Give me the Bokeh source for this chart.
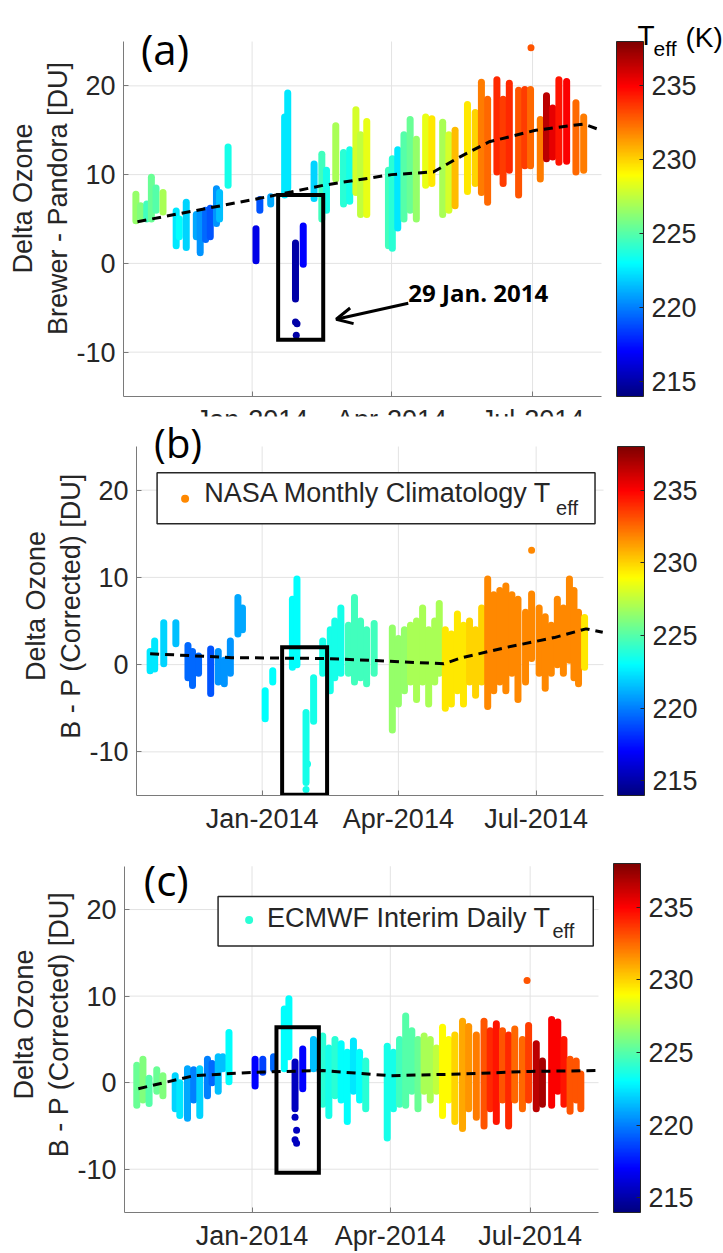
import pandas as pd
from bokeh.plotting import figure
from bokeh.layouts import column
from bokeh.models import (Range1d, FixedTicker, DatetimeTickFormatter, ColorBar,
                          LinearColorMapper, Label, Arrow, OpenHead, ColumnDataSource)
from bokeh.core.properties import value
from bokeh.embed import file_html
from bokeh.resources import INLINE

# ---------------- data (x = days from 1 Jan 2014) ----------------
# Panel (a): Brewer - Pandora, coloured by daily Teff
A_DAY = [-75, -72, -68, -65, -62, -57.5, -49, -47, -42.5, -36, -33.5, -30, -27, -23, -21, -15.5,
         2.5, 5, 12, 21, 23, 28, 33, 40, 45, 48, 54, 59, 63, 67, 70, 74,
         88, 90.5, 94, 98, 102, 106, 112, 116, 123, 127, 131, 139, 144, 148, 152,
         158, 162, 166, 172, 176, 179.7, 186, 190, 194, 198, 203, 209, 214]
A_LO = [4.8, 5.0, 5.0, 5.0, 6.0, 5.8, 2.0, 3.0, 1.8, 3.0, 1.2, 2.7, 3.0, 4.5, 5.0, 8.8,
        0.3, 6.0, 6.7, 7.7, 8.5, -4.0, -0.1, 7.3, 5.0, 6.0, 9.5, 6.7, 7.0, 8.0, 5.5, 5.5,
        2.0, 1.7, 4.0, 5.0, 6.0, 5.0, 8.8, 9.0, 5.5, 6.0, 6.5, 8.1, 9.0, 8.0, 6.9,
        10.3, 9.0, 10.5, 7.7, 11.0, 11.0, 9.5, 11.8, 12.0, 11.4, 11.5, 10.3, 10.5]
A_HI = [7.8, 6.5, 6.7, 9.7, 8.5, 8.0, 5.9, 5.0, 6.9, 5.5, 5.7, 6.0, 6.2, 8.4, 8.0, 13.1,
        3.9, 7.2, 7.5, 16.5, 19.2, 2.3, 4.2, 11.2, 12.3, 10.5, 15.5, 12.5, 12.8, 17.3, 14.5, 16.0,
        10.5, 11.8, 12.8, 14.5, 16.2, 14.0, 16.5, 16.3, 15.9, 14.5, 15.0, 17.9, 17.0, 20.4, 18.5,
        20.7, 18.5, 20.3, 19.5, 19.6, 19.6, 16.2, 18.9, 17.5, 20.7, 20.5, 18.1, 16.5]
A_TEFF = [226.5, 226, 224.5, 225.5, 225, 227, 222.5, 223, 222, 221, 220.5, 219.5, 219, 220.5, 221.5, 223.5,
          216.5, 219, 221, 222.5, 222.5, 215, 217, 222, 224.5, 223.5, 227, 224, 223.5, 228, 227.5, 228.5,
          224.5, 224, 222.5, 225, 225.5, 226.5, 228.5, 229.5, 227, 228, 230.5, 229.5, 230, 232, 232.5,
          234, 233.5, 234, 233, 233.5, 232.5, 232, 236.5, 235.5, 234.5, 235, 232.5, 232]
A_PT_DAY = [28, 29, 28.5, 180]
A_PT_Y = [-6.6, -6.8, -8.1, 24.3]
A_PT_TEFF = [215, 215, 215, 233]
A_TREND_DAY = [-74, 4, 46, 90, 117, 132, 153, 183, 214, 225]
A_TREND_Y = [4.7, 7.3, 8.8, 10.0, 10.3, 11.8, 13.7, 15.0, 15.7, 15.0]

# Panel (b): corrected with NASA monthly climatology Teff
B_DAY = [-74, -71, -65, -57, -49, -46, -42, -34, -29, -25, -21, -16, -13, 2, 7, 20, 23, 29, 34,
         40, 45, 48, 52, 57, 61, 65, 69, 74, 86, 90, 94, 98, 102, 106, 110, 114, 117,
         121, 125, 129, 133, 137, 141, 145, 149, 153, 157, 161, 165, 169, 174, 178,
         183, 187, 191, 195, 199, 203, 206, 209, 213]
B_LO = [-0.7, -0.5, 0.1, 2.4, -1.5, -2.4, -1.0, -3.3, -2.0, -2.2, -1.0, 3.5, 4.0, -6.2, -2.0, -0.3, 0.0, -13.5, -6.5,
        -1.0, -3.0, -1.5, -1.0, -1.0, -2.0, -1.5, -2.2, -1.0, -7.5, -4.5, -3.0, -2.0, -4.0, -2.0, -4.5, -2.0, -1.0,
        -5.0, -4.5, -3.0, -4.5, -2.0, -3.5, -2.0, -4.8, -3.0, -2.0, -3.0, -1.0, -4.0, -2.0, 0.7,
        -1.0, -2.7, -1.0, 0.0, -1.0, 0.5, -1.5, -2.2, -0.3]
B_HI = [1.5, 2.7, 4.8, 4.8, 2.2, 1.5, 1.0, 1.8, 1.5, 0.5, 2.7, 7.7, 6.5, -3.0, -0.7, 7.5, 9.8, -5.5, -1.5,
        2.7, 4.0, 5.0, 6.5, 4.5, 7.7, 5.0, 4.0, 4.7, 4.2, 3.0, 4.0, 4.5, 5.0, 6.5, 4.0, 5.0, 7.0,
        4.0, 3.5, 5.8, 4.5, 5.0, 4.0, 6.5, 9.8, 8.0, 8.5, 9.0, 8.0, 7.5, 6.0, 8.1,
        6.5, 5.5, 4.5, 7.5, 6.5, 9.8, 8.5, 6.0, 5.4]
B_TEFF = [222.5, 222.5, 222, 221.5, 219.5, 219.5, 219.5, 219, 220.5, 220.5, 220.5, 221, 221, 223, 223, 223, 223, 223.5, 223.5,
          223.5, 223.5, 223.5, 223.5, 224.5, 224.5, 224.5, 224.5, 224.5, 226.5, 226.5, 226.5, 227, 227, 227, 227, 227, 227,
          229.5, 229.5, 229.5, 229.5, 230, 230, 230, 231.8, 231.8, 231.8, 231.8, 231.8, 231.8, 231.8, 231.8,
          231.8, 231.8, 231.8, 231.8, 231.8, 231.8, 231.8, 231.8, 229.5]
B_PT_DAY = [29, 30, 178]
B_PT_Y = [-14.3, -11.4, 13.1]
B_PT_TEFF = [223.5, 223.5, 231.8]
B_TREND_DAY = [-74, -20, 41, 71, 101, 120, 132, 162, 193, 214, 225]
B_TREND_Y = [1.25, 0.8, 0.7, 0.5, 0.25, 0.1, 0.8, 2.0, 3.1, 4.1, 3.7]

# Panel (c): corrected with ECMWF Interim daily Teff
C_DAY = [-75, -71, -67, -62, -58, -50, -47, -42, -38, -34, -29, -26, -22, -19, -15, 2, 7, 14, 21, 24, 28, 33,
         40, 46, 50, 54, 58, 62, 66, 70, 74, 88, 92, 96, 100, 104, 108, 112, 116, 120, 124, 128, 132,
         137, 141, 146, 151, 155, 159, 163, 167, 171, 176, 180, 185, 189, 195, 199, 203, 207, 211, 214]
C_LO = [-2.6, -2.0, -2.4, -1.0, -1.5, -3.0, -3.8, -4.1, -2.0, -3.8, -1.5, 0.0, -1.0, 1.6, 0.1, -0.4, 1.2, 1.6, 1.6, 3.0, -3.0, -0.7,
        1.6, -2.5, -3.8, -1.5, -2.0, -4.5, -1.0, -2.0, -3.0, -6.4, -3.0, -2.5, -2.6, -1.0, -3.0, -1.0, -2.0, -1.0, -3.8, -2.0, -4.5,
        -5.3, -3.0, -4.0, -5.0, -3.0, -4.5, -2.0, -5.0, -2.0, -3.0, -2.0, -3.0, -2.5, -2.6, -1.0, -2.5, -3.3, -2.0, -3.0]
C_HI = [2.0, 2.7, 0.5, 1.5, 0.8, 0.8, 0.0, 1.6, 1.5, 1.6, 2.7, 2.2, 3.0, 3.0, 5.8, 2.7, 2.7, 3.0, 8.5, 9.7, 2.4, 3.9,
        5.0, 5.4, 4.0, 5.0, 4.5, 3.5, 4.8, 3.5, 2.5, 4.2, 3.5, 5.0, 7.7, 6.0, 5.0, 5.4, 5.0, 4.0, 6.4, 5.0, 5.5,
        7.1, 6.5, 5.5, 7.1, 6.0, 6.8, 6.0, 5.5, 6.2, 5.0, 6.6, 4.5, 2.5, 7.3, 7.0, 5.0, 2.7, 2.5, 1.0]
C_TEFF = [225.5, 226, 225, 225.5, 226, 222, 222.5, 221, 220, 222, 220, 219.5, 221.5, 221.5, 223, 217, 218.5, 219.5, 223, 223, 215.5, 217,
          221.5, 224, 223.5, 224, 223, 223, 222.5, 223, 224, 223.5, 223.5, 224.5, 225, 225, 225.5, 227, 227, 227.5, 229, 229, 230,
          231, 231.5, 232, 233, 234, 234.5, 233, 234, 232.5, 232.5, 233.5, 236.5, 237, 235, 235, 234.5, 233, 233, 233]
C_PT_DAY = [28, 29, 28, 29, 179]
C_PT_Y = [-4.0, -5.5, -6.6, -7.0, 11.8]
C_PT_TEFF = [215.5, 215.5, 215.5, 215.5, 233]
C_TREND_DAY = [-74, -38, 1, 46, 90, 136, 181, 225]
C_TREND_Y = [-0.7, 0.8, 1.2, 1.4, 0.8, 1.0, 1.3, 1.4]

# highlighted 29 Jan 2014 boxes: [day0, day1, y0, y1]
A_BOX = [16.8, 45.9, -8.6, 7.7]
B_BOX = [13.2, 42.9, -14.9, 2.0]
C_BOX = [15.9, 43.5, -10.4, 6.4]

X_START, X_END = -83, 225.5
Y_MIN, Y_MAX = -15, 25
Y_TICKS = [-10, 0, 10, 20]
Y_TICK_LABELS = ["-10", "0", "10", "20"]
X_TICK_DAYS = [0, 90, 181]
CB_TICKS = [215, 220, 225, 230, 235]
T_LOW, T_HIGH = 214, 238

# ---------------- helpers ----------------
BASE = pd.Timestamp("2014-01-01")


def ms(days):
    return [(BASE + pd.Timedelta(days=float(d))).value / 1e6 for d in days]


def jet(n=256):
    out = []
    for i in range(n):
        x = i / (n - 1)
        r = min(max(1.5 - abs(4 * x - 3), 0), 1)
        g = min(max(1.5 - abs(4 * x - 2), 0), 1)
        b = min(max(1.5 - abs(4 * x - 1), 0), 1)
        out.append("#%02x%02x%02x" % (int(r * 255), int(g * 255), int(b * 255)))
    return out


PAL = jet()
mapper = LinearColorMapper(palette=PAL, low=T_LOW, high=T_HIGH)
FONT = "Liberation Sans"
TXT = "#262626"
W = 723
FRAME_LEFT = 123   # common frame left edge inside each figure (frames of a column align)


def make_panel(height, data_top, data_bottom, data_right, bar_left, ylabel,
               days, lo, hi, teff, pdays, py, pteff, tdays, ty, box, xoff=0, top_margin=0):
    """xoff shifts the whole figure right on the page (pixels).  The frame spans the
    figure right of the y-axis panel; axes are bounded to the data window."""
    width = W - xoff
    data_left = FRAME_LEFT + xoff                            # page pixels
    ppd = (data_right - data_left) / (X_END - X_START)       # pixels per day
    ppy = (data_bottom - data_top) / (Y_MAX - Y_MIN)         # pixels per DU
    x_hi = X_START + (W - data_left) / ppd
    y_hi = Y_MAX + data_top / ppy
    p = figure(width=width, height=height, x_range=Range1d(*ms([X_START, x_hi])),
               y_range=Range1d(Y_MIN, y_hi), min_border_top=0,
               min_border_bottom=height - data_bottom, min_border_left=FRAME_LEFT,
               min_border_right=0, output_backend="svg", toolbar_location=None,
               x_axis_type="datetime", title=None, margin=(top_margin, 0, 0, xoff))
    p.outline_line_color = None
    p.background_fill_color = "white"
    p.border_fill_color = "white"
    p.xgrid.visible = False
    p.ygrid.visible = False
    p.xaxis.ticker = FixedTicker(ticks=ms(X_TICK_DAYS))
    p.xaxis.bounds = tuple(ms([X_START, X_END]))
    fmt = "%b-%Y"
    p.xaxis.formatter = DatetimeTickFormatter(days=fmt, months=fmt, years=fmt, hours=fmt,
                                              minutes=fmt, seconds=fmt, milliseconds=fmt,
                                              microseconds=fmt, minsec=fmt, hourmin=fmt)
    p.yaxis.ticker = FixedTicker(ticks=Y_TICKS)
    p.yaxis.major_label_overrides = {t: s for t, s in zip(Y_TICKS, Y_TICK_LABELS)}
    p.yaxis.bounds = (Y_MIN, Y_MAX)
    for ax in (p.xaxis[0], p.yaxis[0]):
        ax.axis_line_color = "#7a7a7a"
        ax.major_tick_line_color = "#7a7a7a"
        ax.major_tick_in = 5
        ax.major_tick_out = 0
        ax.minor_tick_line_color = None
        ax.major_label_text_font = FONT
        ax.major_label_text_font_size = "27px"
        ax.major_label_text_color = TXT
        ax.major_label_standoff = 8
    p.yaxis.axis_label = ylabel
    p.yaxis.axis_label_text_font = FONT
    p.yaxis.axis_label_text_font_size = "27px"
    p.yaxis.axis_label_text_font_style = "normal"
    p.yaxis.axis_label_text_color = TXT
    p.yaxis.axis_label_standoff = 0
    p.yaxis.axis_label_text_line_height = 1.18

    # grid lines limited to the data window
    xs = ms(X_TICK_DAYS)
    p.segment(x0=xs, y0=[Y_MIN] * len(xs), x1=xs, y1=[Y_MAX] * len(xs),
              line_color="#e3e3e3", line_width=1)
    x0, x1 = ms([X_START, X_END])
    p.segment(x0=[x0] * len(Y_TICKS), y0=Y_TICKS, x1=[x1] * len(Y_TICKS), y1=Y_TICKS,
              line_color="#e3e3e3", line_width=1)

    src = ColumnDataSource(dict(x=ms(days), lo=lo, hi=hi, teff=teff))
    p.segment(x0="x", y0="lo", x1="x", y1="hi", source=src, line_width=7, line_cap="round",
              line_color={"field": "teff", "transform": mapper})
    psrc = ColumnDataSource(dict(x=ms(pdays), y=py, teff=pteff))
    p.scatter(x="x", y="y", source=psrc, size=7, line_color=None,
              fill_color={"field": "teff", "transform": mapper})
    p.line(x=ms(tdays), y=ty, line_color="black", line_width=3, line_dash="9 6")
    bx = ms(box[:2])
    p.quad(left=[bx[0]], right=[bx[1]], bottom=[box[2]], top=[box[3]], fill_color=None,
           line_color="black", line_width=4, line_join="miter")

    cb = ColorBar(color_mapper=mapper, ticker=FixedTicker(ticks=CB_TICKS), width=27,
                  height=int(round(data_bottom - data_top)), padding=0, margin=0,
                  label_standoff=8, location=(bar_left - data_left, 0),
                  major_label_text_font=FONT, major_label_text_font_size="27px",
                  major_label_text_color=TXT, bar_line_color="#262626",
                  major_tick_line_color="#262626", major_tick_in=4, major_tick_out=0,
                  background_fill_color=None, border_line_color=None)
    p.add_layout(cb)
    return p


pa = make_panel(450, 41, 396, 601, 616, "Delta Ozone\nBrewer - Pandora [DU]",
                A_DAY, A_LO, A_HI, A_TEFF, A_PT_DAY, A_PT_Y, A_PT_TEFF,
                A_TREND_DAY, A_TREND_Y, A_BOX)
pb = make_panel(420, 30, 379, 603, 617, "Delta Ozone\nB - P (Corrected) [DU]",
                B_DAY, B_LO, B_HI, B_TEFF, B_PT_DAY, B_PT_Y, B_PT_TEFF,
                B_TREND_DAY, B_TREND_Y, B_BOX, xoff=13, top_margin=-34)
pc = make_panel(417, 30, 379, 598, 613, "Delta Ozone\nB - P (Corrected) [DU]",
                C_DAY, C_LO, C_HI, C_TEFF, C_PT_DAY, C_PT_Y, C_PT_TEFF,
                C_TREND_DAY, C_TREND_Y, C_BOX, xoff=1)


def lab(p, day, y, text, size, font=FONT, style="normal", baseline="middle", align="left"):
    p.add_layout(Label(x=ms([day])[0], y=y, text=text, text_font=font, text_font_size=size,
                       text_font_style=style, text_baseline=baseline, text_align=align,
                       text_color="black"))


# panel letters
lab(pa, -56.2, 24.2, "(a)", "42px", font="Open Sans", align="center")
lab(pb, -55.5, 25.5, "(b)", "40px", font="Open Sans", align="center")
lab(pc, -55.8, 23.5, "(c)", "42px", font="Open Sans", align="center")

# colorbar title T_eff (K)
lab(pa, 248.7, 25.68, "T", "28px", baseline="alphabetic")
lab(pa, 259.1, 24.2, "eff", "21px", baseline="alphabetic")
lab(pa, 279.7, 25.45, "(K)", "28px", baseline="alphabetic")

# annotation with arrow
lab(pa, 100.8, -3.3, "29 Jan. 2014", "24px", font="Open Sans", style="bold")
pa.add_layout(Arrow(end=OpenHead(size=16, line_width=3, line_color="black"),
                    x_start=ms([100.8])[0], y_start=-4.5, x_end=ms([54.3])[0], y_end=-6.3,
                    line_width=3, line_color="black"))


# legends (drawn as box + marker + text)
def legend(p, box, mday, my, mteff, text, tday, ty, eday, ey):
    b = ms(box[:2])
    p.quad(left=[b[0]], right=[b[1]], bottom=[box[2]], top=[box[3]], fill_color="white",
           line_color="#262626", line_width=1.5)
    msrc = ColumnDataSource(dict(x=ms([mday]), y=[my], t=[mteff]))
    p.scatter(x="x", y="y", size=8, line_color=None,
              fill_color={"field": "t", "transform": mapper}, source=msrc)
    p.text(x=ms([tday]), y=[ty], text=[text], text_font=value(FONT), text_font_size="27px",
           text_baseline="middle", text_color=TXT)
    p.text(x=ms([eday]), y=[ey], text=["eff"], text_font=value(FONT), text_font_size="20px",
           text_baseline="middle", text_color=TXT)


legend(pb, [-69.4, 219.9, 16.15, 22.0], -50.9, 19.0, 231.8, "NASA Monthly Climatology T",
       -38.3, 19.7, 194.2, 17.9)
legend(pc, [-22.1, 222.1, 15.8, 21.5], -1.9, 18.8, 224.0, "ECMWF Interim Daily T",
       9.7, 19.0, 195.5, 17.5)

layout = column(pa, pb, pc, spacing=0)
open("out.html", "w").write(file_html(layout, INLINE))
